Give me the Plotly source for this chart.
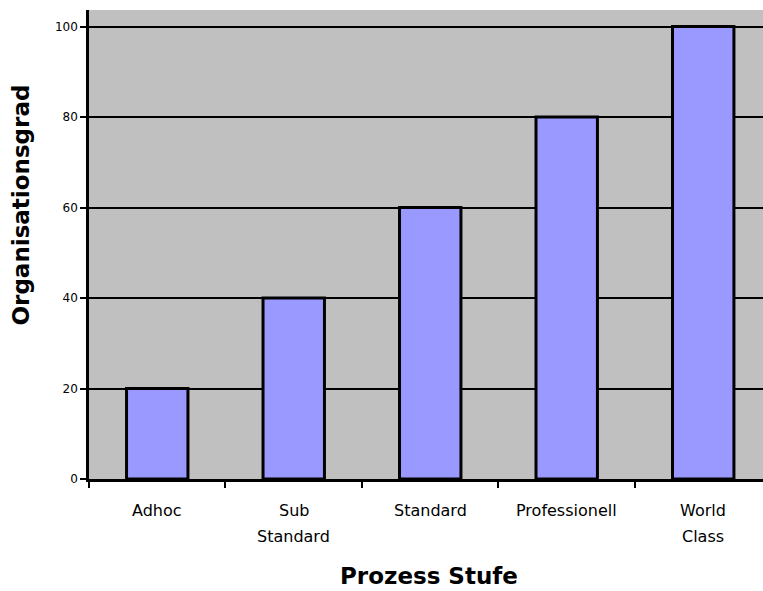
import plotly.graph_objects as go

categories = ["Adhoc", "Sub Standard", "Standard", "Professionell", "World Class"]
label_lines = [["Adhoc"], ["Sub", "Standard"], ["Standard"], ["Professionell"], ["World", "Class"]]
values = [20, 40, 60, 80, 100]
y_ticks = [0, 20, 40, 60, 80, 100]

x_title = "Prozess Stufe"
y_title = "Organisationsgrad"

fig = go.Figure()
fig.add_trace(go.Bar(
    x=categories, y=values,
    marker=dict(color="#9999FF", line=dict(color="black", width=3)),
    hoverinfo="skip",
))

annotations = []
for cat, lines in zip(categories, label_lines):
    for i, ln in enumerate(lines):
        annotations.append(dict(
            x=cat, xref="x", y=0, yref="paper", text=ln, showarrow=False,
            xanchor="center", yanchor="middle", yshift=-31 - 26 * i,
            font=dict(family="DejaVu Sans", size=16, color="black"),
        ))

annotations.append(dict(
    x=0.5, xref="paper", y=0, yref="paper", text="<b>" + x_title + "</b>",
    showarrow=False, xanchor="center", yanchor="bottom", yshift=-111, xshift=3,
    borderpad=0,
    font=dict(family="DejaVu Sans", size=23, color="black"),
))
annotations.append(dict(
    x=0, xref="paper", y=0.5, yref="paper", text="<b>" + y_title + "</b>",
    showarrow=False, xanchor="center", yanchor="middle", xshift=-69, yshift=39,
    textangle=-90, font=dict(family="DejaVu Sans", size=23, color="black"),
))

fig.update_layout(
    width=763, height=591,
    margin=dict(l=89, r=0, t=10, b=112),
    paper_bgcolor="white", plot_bgcolor="#C0C0C0",
    bargap=0.55, showlegend=False,
    annotations=annotations,
)
fig.update_xaxes(
    range=[-0.5, 4.438], showticklabels=False,
    ticks="outside", tickson="boundaries", ticklen=6, tickwidth=1.5, tickcolor="black",
    showline=True, linecolor="black", linewidth=2.5, showgrid=False,
)
fig.update_yaxes(
    range=[0, 103.65], tickvals=y_ticks, ticks="outside", ticklen=6, tickwidth=1.5,
    tickcolor="black", showline=True, linecolor="black", linewidth=2.5,
    showgrid=True, gridcolor="black", gridwidth=1.5, zeroline=False,
    tickfont=dict(family="DejaVu Sans", size=12, color="black"),
)

fig.write_html("out.html")
